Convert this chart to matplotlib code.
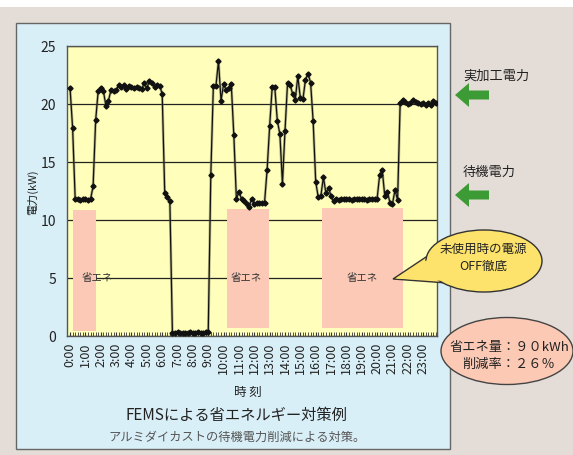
import matplotlib.pyplot as plt
import matplotlib.patches as mpatches

plt.rcParams['font.family'] = ['Noto Sans CJK JP', 'DejaVu Sans']

# power readings (kW), one every 10 minutes from 0:00 to 23:50
power = [
    21.35, 17.9, 11.8, 11.8, 11.75, 11.8, 11.8, 11.75, 11.8, 12.9,
    18.6, 21.15, 21.4, 21.15, 19.85, 20.3, 21.2, 21.15, 21.2, 21.6,
    21.5, 21.6, 21.3, 21.55, 21.5, 21.4, 21.5, 21.35, 21.3, 21.8,
    21.35, 22.0, 21.8, 21.5, 21.6, 21.55, 20.9, 12.3, 12.0, 11.6,
    0.25, 0.3, 0.35, 0.3, 0.3, 0.25, 0.3, 0.35, 0.3, 0.3,
    0.35, 0.3, 0.3, 0.35, 0.35, 13.9, 21.55, 21.55, 23.7, 20.3,
    21.7, 21.2, 21.4, 21.7, 17.3, 11.8, 12.45, 11.8, 11.6, 11.4,
    11.15, 11.85, 11.4, 11.45, 11.5, 11.45, 11.5, 14.3, 18.1, 21.5,
    21.45, 18.55, 17.4, 13.1, 17.7, 21.85, 21.65, 20.85, 20.35, 22.4,
    20.5, 20.4, 22.1, 22.6, 21.85, 18.5, 13.3, 11.95, 12.05, 13.7,
    12.3, 12.8, 12.05, 11.6, 11.8, 11.75, 11.8, 11.8, 11.85, 11.8,
    11.75, 11.8, 11.8, 11.8, 11.85, 11.8, 11.75, 11.8, 11.8, 11.8,
    11.85, 13.9, 14.3, 12.05, 12.45, 11.5, 11.4, 12.6, 11.7, 20.05,
    20.35, 20.2, 20.0, 20.1, 20.35, 20.2, 20.05, 20.0, 20.05, 19.95,
    20.05, 19.9, 20.25, 20.1,
]
hour_labels = [f"{h}:00" for h in range(24)]

# energy-saving periods (hours) and the box heights (kW)
saving_start = [0.17, 10.2, 16.43]
saving_end = [1.67, 12.93, 21.7]
saving_low = [0.4, 0.65, 0.7]
saving_high = [10.9, 10.95, 11.0]

W, H = 573, 455
fig = plt.figure(figsize=(W / 100, H / 100), dpi=100)
fig.patch.set_facecolor('#e4ddd7')

# background layer in pixel coordinates
bg = fig.add_axes([0, 0, 1, 1], zorder=-1)
bg.set_xlim(0, W)
bg.set_ylim(H, 0)
bg.axis('off')
bg.add_patch(mpatches.Rectangle((0, 0), W, 7, fc='white', ec='none'))
bg.add_patch(mpatches.Rectangle((16, 23), 434, 426, fc='#d9eff7', ec='#666666', lw=1))

# main chart
ax = fig.add_axes([67 / W, 1 - 336 / H, 370 / W, 290 / H], zorder=1)
ax.set_facecolor('#ffffbb')
x = list(range(len(power)))
ax.set_xlim(-1.2, 143.4)
ax.set_ylim(0, 25)

for s, e, lo, hi in zip(saving_start, saving_end, saving_low, saving_high):
    ax.add_patch(mpatches.Rectangle((s * 6, lo), (e - s) * 6, hi - lo,
                                    fc='#fbc9b6', ec='none', zorder=1))
for lx in [4.7, 62.9, 108]:
    ax.text(lx, 5, '省エネ', fontsize=7.5, color='#333333', va='center', zorder=2)

ax.plot(x, power, color='#6b6b50', lw=2.0, alpha=0.45, zorder=3)
ax.plot(x, power, color='#111111', lw=0.9, marker='D', ms=2.6,
        mfc='#111111', mec='#111111', zorder=4)

ax.set_yticks([0, 5, 10, 15, 20, 25])
ax.yaxis.grid(True, color='#222222', lw=0.9)
ax.set_axisbelow(True)
ax.tick_params(axis='y', length=0, pad=8, labelsize=10, labelcolor='#222222')
ax.set_xticks(list(range(0, 144, 6)))
ax.set_xticklabels(hour_labels, rotation=90, fontsize=9, color='#222222')
ax.set_xticks(x, minor=True)
ax.tick_params(axis='x', which='both', direction='in', length=3, color='#333333', pad=5)
for sp in ax.spines.values():
    sp.set_color('#555555')
    sp.set_linewidth(1)

# foreground layer in pixel coordinates
fg = fig.add_axes([0, 0, 1, 1], zorder=5)
fg.set_xlim(0, W)
fg.set_ylim(H, 0)
fg.axis('off')
fg.patch.set_alpha(0)

fg.text(33, 192, '電力(kW)', rotation=90, fontsize=8, ha='center', va='center', color='#222222')
fg.text(248, 392, '時 刻', fontsize=9, ha='center', va='center', color='#222222')
fg.text(236, 415, 'FEMSによる省エネルギー対策例', fontsize=11, ha='center', va='center', color='#222222')
fg.text(237, 437, 'アルミダイカストの待機電力削減による対策。', fontsize=8.8, ha='center', va='center', color='#555555')

fg.text(463, 76, '実加工電力', fontsize=9.5, ha='left', va='center', color='#222222')
fg.text(463, 172, '待機電力', fontsize=9.5, ha='left', va='center', color='#222222')
for cy in [95, 195]:
    arrow = [(455, cy), (469, cy - 12), (469, cy - 4.5), (489, cy - 4.5),
             (489, cy + 4.5), (469, cy + 4.5), (469, cy + 12)]
    fg.add_patch(mpatches.Polygon(arrow, closed=True, fc='#3c9b35', ec='none'))

# yellow speech bubble
tail = [(393, 279), (432, 253), (447, 283)]
fg.add_patch(mpatches.Polygon(tail, closed=True, fc='#fde36b', ec='#333333', lw=1))
fg.add_patch(mpatches.Ellipse((484, 261), 116, 62, fc='#fde36b', ec='#333333', lw=1))
fg.add_patch(mpatches.Polygon([(396, 278.5), (434, 256), (446, 281)], closed=True,
                              fc='#fde36b', ec='none'))
fg.text(483, 249, '未使用時の電源', fontsize=9, ha='center', va='center', color='#222222')
fg.text(483, 266, 'OFF徹底', fontsize=9, ha='center', va='center', color='#222222')

# pink result ellipse
fg.add_patch(mpatches.Ellipse((507, 351), 132, 67, fc='#fcc9b5', ec='#444444', lw=1))
fg.text(509, 347, '省エネ量：９０kWh', fontsize=9.5, ha='center', va='center', color='#222222')
fg.text(509, 364, '削減率：２６％', fontsize=9.5, ha='center', va='center', color='#222222')

fig.savefig('out.png', dpi=100, facecolor=fig.get_facecolor())
